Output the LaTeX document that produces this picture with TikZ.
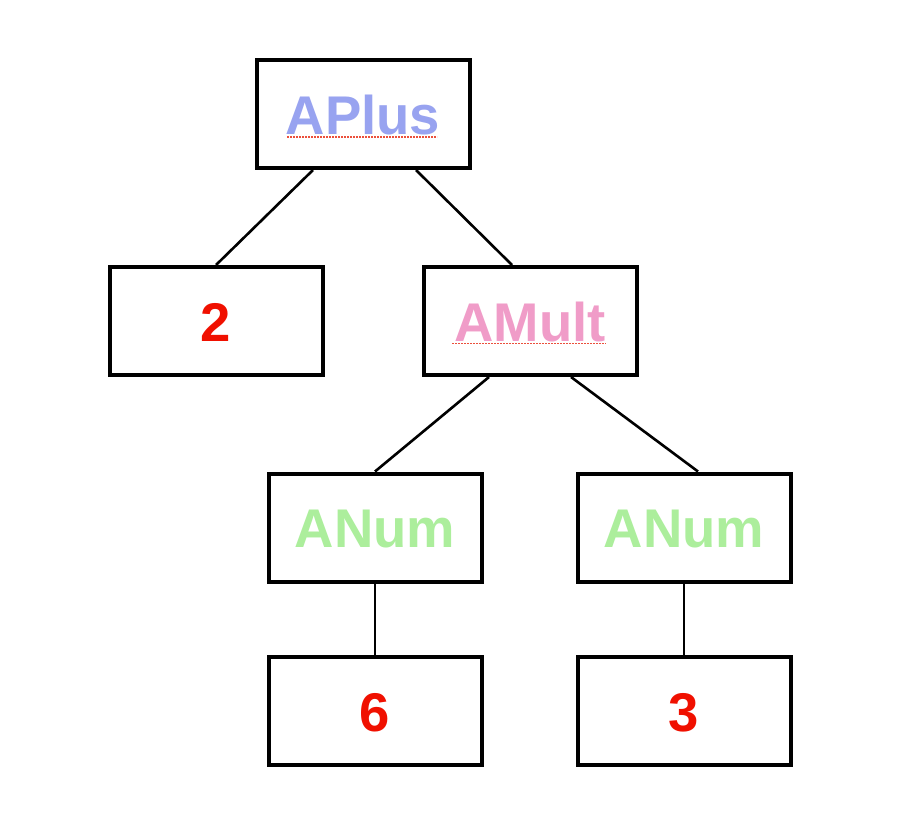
\documentclass[tikz,border=0pt]{standalone}
\usepackage{fontspec}
\setmainfont{Liberation Sans}
\usetikzlibrary{calc}
\definecolor{plusblue}{RGB}{152,163,240}
\definecolor{multpink}{RGB}{240,156,200}
\definecolor{numgreen}{RGB}{172,238,156}
\definecolor{numred}{RGB}{240,16,0}
\definecolor{spellred}{RGB}{235,80,60}
\tikzset{
  treebox/.style={draw=black, line width=4pt, rectangle, minimum width=213pt, minimum height=108pt,
    inner sep=0pt, text height=40pt, text depth=0pt, font=\fontsize{54.5}{60}\selectfont\bfseries},
  edge/.style={draw=black, line width=2.6pt},
  uline/.style={draw=spellred, line width=1.8pt, dash pattern=on 1.6pt off 1.4pt}
}
\begin{document}
\begin{tikzpicture}[x=1pt,y=-1pt]
\useasboundingbox[fill=white] (0,0) rectangle (912,830);
\node[treebox, text=plusblue] (aplus) at (363,114) {APlus};
\node[treebox, text=numred] (two) at (216,321) {2};
\node[treebox, text=multpink] (amult) at (530,321) {AMult};
\node[treebox, text=numgreen] (anuma) at (375,527.5) {ANum};
\node[treebox, text=numgreen] (anumb) at (684,527.5) {ANum};
\node[treebox, text=numred] (six) at (375,711) {6};
\node[treebox, text=numred] (three) at (684,711) {3};
\draw[uline] ($(aplus.center)+(-76,23)$) -- ($(aplus.center)+(74,23)$);
\draw[uline] ($(amult.center)+(-78,22.5)$) -- ($(amult.center)+(76,22.5)$);
\draw[edge] ($(aplus.south)+(-50,0)$) -- (two.north);
\draw[edge] ($(aplus.south)+(53,0)$) -- ($(amult.north)+(-18,0)$);
\draw[edge] ($(amult.south)+(-41,0)$) -- (anuma.north);
\draw[edge] ($(amult.south)+(41,0)$) -- ($(anumb.north)+(14,0)$);
\draw[edge] (anuma.south) -- (six.north);
\draw[edge] (anumb.south) -- (three.north);
\end{tikzpicture}
\end{document}
